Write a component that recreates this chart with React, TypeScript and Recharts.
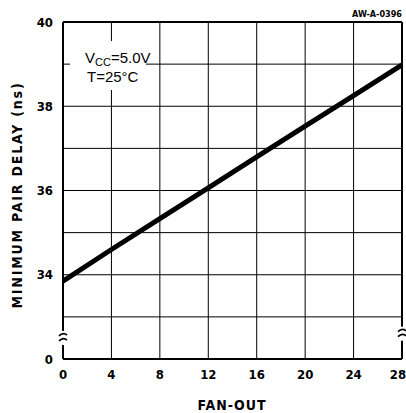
import { LineChart, Line, XAxis, YAxis, CartesianGrid, ReferenceLine, ReferenceDot } from 'recharts';

// fan-out values
const fanOut = [0, 4, 8, 12, 16, 20, 24, 28];
const pairDelay = [33.85, 34.6, 35.33, 36.06, 36.8, 37.53, 38.25, 38.98];

const xTicks = [0, 4, 8, 12, 16, 20, 24, 28];
// 32 on the scale stands for the broken-axis "0"
const yTicks = [32, 33, 34, 35, 36, 37, 38, 39, 40];
const yLabels: Record<number, string> = { 32: '0', 34: '34', 36: '36', 38: '38', 40: '40' };

const data = fanOut.map((f, i) => ({ fan: f, delay: pairDelay[i] }));

const fontFam = '"Liberation Sans Narrow", "DejaVu Sans Condensed", sans-serif';

const tickFont = {
  fontFamily: fontFam,
  fontWeight: 700,
  fontSize: 13,
  fill: '#000',
};

// last x tick sits right on the page edge, nudge it in a bit
function XTick(props: any) {
  const { x, y, payload } = props;
  const shift = payload.value === 28 ? -4 : 0;
  return (
    <text x={x + shift} y={y + 12} textAnchor="middle" fontFamily={fontFam} fontWeight={700} fontSize={13} fill="#000">
      {payload.value}
    </text>
  );
}

function BreakMark(props: any) {
  const { cx, cy } = props;
  return (
    <g>
      <rect x={cx - 4} y={cy - 7} width={8} height={14} fill="#fff" />
      <path d={`M${cx - 4},${cy - 2} Q${cx},${cy - 6} ${cx + 4},${cy - 3}`} stroke="#000" strokeWidth={1.8} fill="none" />
      <path d={`M${cx - 4},${cy + 3} Q${cx},${cy - 1} ${cx + 4},${cy + 2}`} stroke="#000" strokeWidth={1.8} fill="none" />
    </g>
  );
}

export default function App() {
  return (
    <div style={{ position: 'absolute', left: 0, top: 0, width: 406, height: 413, background: '#fff' }}>
      <LineChart width={406} height={413} data={data} margin={{ top: 22, right: 4, left: 0, bottom: 0 }}>
        <CartesianGrid stroke="#000" strokeWidth={1} horizontalValues={yTicks} verticalValues={xTicks} />
        <XAxis
          dataKey="fan"
          type="number"
          domain={[0, 28]}
          ticks={xTicks}
          height={54}
          tickLine={false}
          axisLine={{ stroke: '#000', strokeWidth: 2 }}
          tick={<XTick />}
          interval={0}
        />
        <YAxis
          type="number"
          domain={[32, 40]}
          ticks={yTicks}
          width={63}
          tickLine={false}
          axisLine={{ stroke: '#000', strokeWidth: 2 }}
          tick={tickFont}
          tickMargin={4}
          tickFormatter={(v: number) => yLabels[v] ?? ''}
          interval={0}
        />
        <ReferenceLine y={40} stroke="#000" strokeWidth={2} />
        <ReferenceLine x={28} stroke="#000" strokeWidth={2} />
        <ReferenceDot x={0} y={32.5} r={0} shape={BreakMark} />
        <ReferenceDot x={28} y={32.6} r={0} shape={BreakMark} />
        <Line
          type="linear"
          dataKey="delay"
          stroke="#000"
          strokeWidth={5}
          dot={false}
          isAnimationActive={false}
        />
      </LineChart>
      <svg width={406} height={413} style={{ position: 'absolute', left: 0, top: 0, pointerEvents: 'none' }}>
        <text x={402} y={17} textAnchor="end" fontFamily="DejaVu Sans Condensed" fontWeight={700} fontSize={9} fill="#000">
          AW-A-0396
        </text>
        <rect x={70} y={41} width={76} height={49} fill="#fff" />
        <text x={85} y={63} fontFamily="Liberation Sans" fontSize={15} fill="#000">
          V<tspan fontSize={11} dy={3}>CC</tspan><tspan dy={-3}>=5.0V</tspan>
        </text>
        <text x={87} y={82} fontFamily="Liberation Sans" fontSize={15} fill="#000">
          T=25°C
        </text>
        <text
          x={22}
          y={195}
          transform="rotate(-90 22 195)"
          textAnchor="middle"
          fontFamily="DejaVu Sans Condensed"
          fontWeight={700}
          fontSize={14}
          letterSpacing={1.8}
          fill="#000"
        >
          MINIMUM PAIR DELAY (ns)
        </text>
        <text x={232} y={410} textAnchor="middle" fontFamily="DejaVu Sans Condensed" fontWeight={700} fontSize={14} letterSpacing={1} fill="#000">
          FAN-OUT
        </text>
      </svg>
    </div>
  );
}
